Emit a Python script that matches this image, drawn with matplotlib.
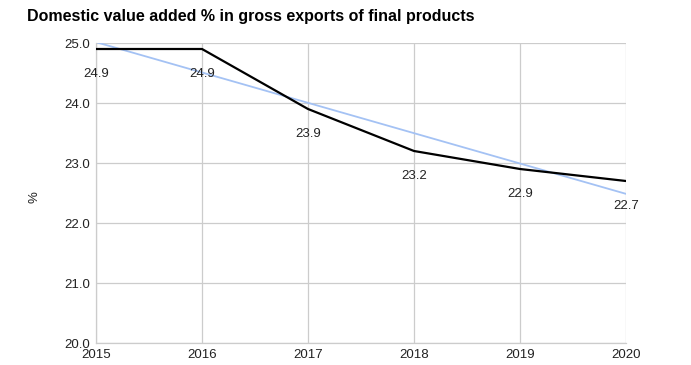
import matplotlib
matplotlib.use("Agg")
import matplotlib.pyplot as plt
import numpy as np

years = [2015, 2016, 2017, 2018, 2019, 2020]
values = [24.9, 24.9, 23.9, 23.2, 22.9, 22.7]
yticks = [20.0, 21.0, 22.0, 23.0, 24.0, 25.0]

plt.rcParams['font.family'] = ['Liberation Sans', 'DejaVu Sans']

fig = plt.figure(figsize=(6.91, 3.65), dpi=100)
ax = fig.add_axes([96/691, 1-343/365, (626-96)/691, (343-43)/365])

# linear trendline computed from the data
coef = np.polyfit(years, values, 1)
trend = np.polyval(coef, years)
ax.plot(years, trend, color='#a4c2f4', lw=1.3, zorder=2)
ax.plot(years, values, color='#000000', lw=1.6, zorder=3)

for x, y in zip(years, values):
    ax.annotate(f"{y:.1f}", (x, y), xytext=(0, -18), textcoords='offset points',
                ha='center', va='center', fontsize=9.5, color='#222222', zorder=4)

ax.set_xlim(years[0], years[-1])
ax.set_ylim(20, 25)
ax.set_xticks(years)
ax.set_xticklabels([str(y) for y in years])
ax.set_yticks(yticks)
ax.set_yticklabels([f"{t:.1f}" for t in yticks])
ax.grid(True, color='#cccccc', lw=0.9)
ax.set_axisbelow(True)
for s in ['top', 'right']:
    ax.spines[s].set_visible(False)
for s in ['left', 'bottom']:
    ax.spines[s].set_color('#cccccc')
    ax.spines[s].set_linewidth(0.9)
ax.tick_params(length=0, labelsize=9.5, colors='#222222', pad=4)

fig.text(35/691, 1-197/365, '%', fontsize=9.5, color='#222222', rotation=90,
         ha='center', va='center')

fig.text(27/691, 1-16/365, 'Domestic value added % in gross exports of final products',
         fontsize=11.5, fontweight='bold', ha='left', va='center', color='#000000')

fig.savefig('out.png', dpi=100)
